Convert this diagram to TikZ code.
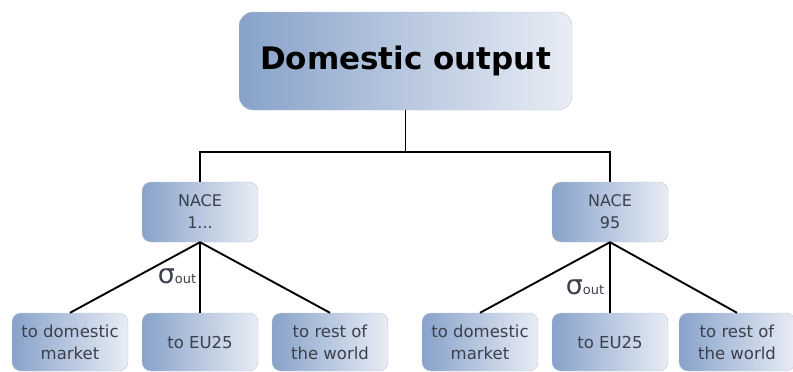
\documentclass[tikz,border=0pt]{standalone}
\usepackage{fontspec}
\setmainfont{DejaVu Sans}
\usetikzlibrary{positioning}
\definecolor{boxdark}{RGB}{136,162,202}
\definecolor{boxlight}{RGB}{232,237,245}
\definecolor{boxline}{RGB}{190,198,212}
\definecolor{txtgray}{RGB}{58,64,76}
\newcommand{\sigout}{{\fontsize{27}{27}\selectfont σ}{\fontsize{13}{13}\selectfont out}}

\begin{document}
\begin{tikzpicture}[
    x=1pt, y=-1pt,
    box/.style={draw=boxline, left color=boxdark, right color=boxlight, rounded corners=9pt,
                align=center, text=txtgray, font=\fontsize{16.5}{22}\selectfont,
                minimum width=116pt, minimum height=58pt, inner sep=0pt},
    topbox/.style={box, rounded corners=14pt, text=black, font=\fontsize{31}{36}\selectfont\bfseries,
                minimum width=333pt, minimum height=98pt},
    link/.style={draw=black, line width=1.9pt}
]
\useasboundingbox (0,0) rectangle (793,372);

\node[topbox] (out) at (405.5, 61) {Domestic output};

\node[box, minimum height=60pt, font=\fontsize{16}{22}\selectfont] (nace1) at (200, 212) {NACE\\1...};
\node[box, minimum height=60pt, font=\fontsize{16}{22}\selectfont] (nace95) at (610, 212) {NACE\\95};

\node[box] (dom1) at (70, 342) {to domestic\\market};
\node[box] (eu1) at (200, 342) {to EU25};
\node[box] (row1) at (330, 342) {to rest of\\the world};

\node[box] (dom95) at (480, 342) {to domestic\\market};
\node[box] (eu95) at (610, 342) {to EU25};
\node[box] (row95) at (737, 342) {to rest of\\the world};

\coordinate (split) at (405.5, 152);

\draw[link] (out.south) -- (split);
\draw[link] (nace1.north) |- (split) -| (nace95.north);

\draw[link] (nace1.south) -- (dom1.north);
\draw[link] (nace1.south) -- (eu1.north);
\draw[link] (nace1.south) -- (row1.north);
\draw[link] (nace95.south) -- (dom95.north);
\draw[link] (nace95.south) -- (eu95.north);
\draw[link] (nace95.south) -- (row95.north);

\node[text=txtgray, inner sep=0pt] (sig1) at (177, 276) {\sigout};
\node[text=txtgray, inner sep=0pt] (sig95) at (585, 287) {\sigout};
\end{tikzpicture}
\end{document}
